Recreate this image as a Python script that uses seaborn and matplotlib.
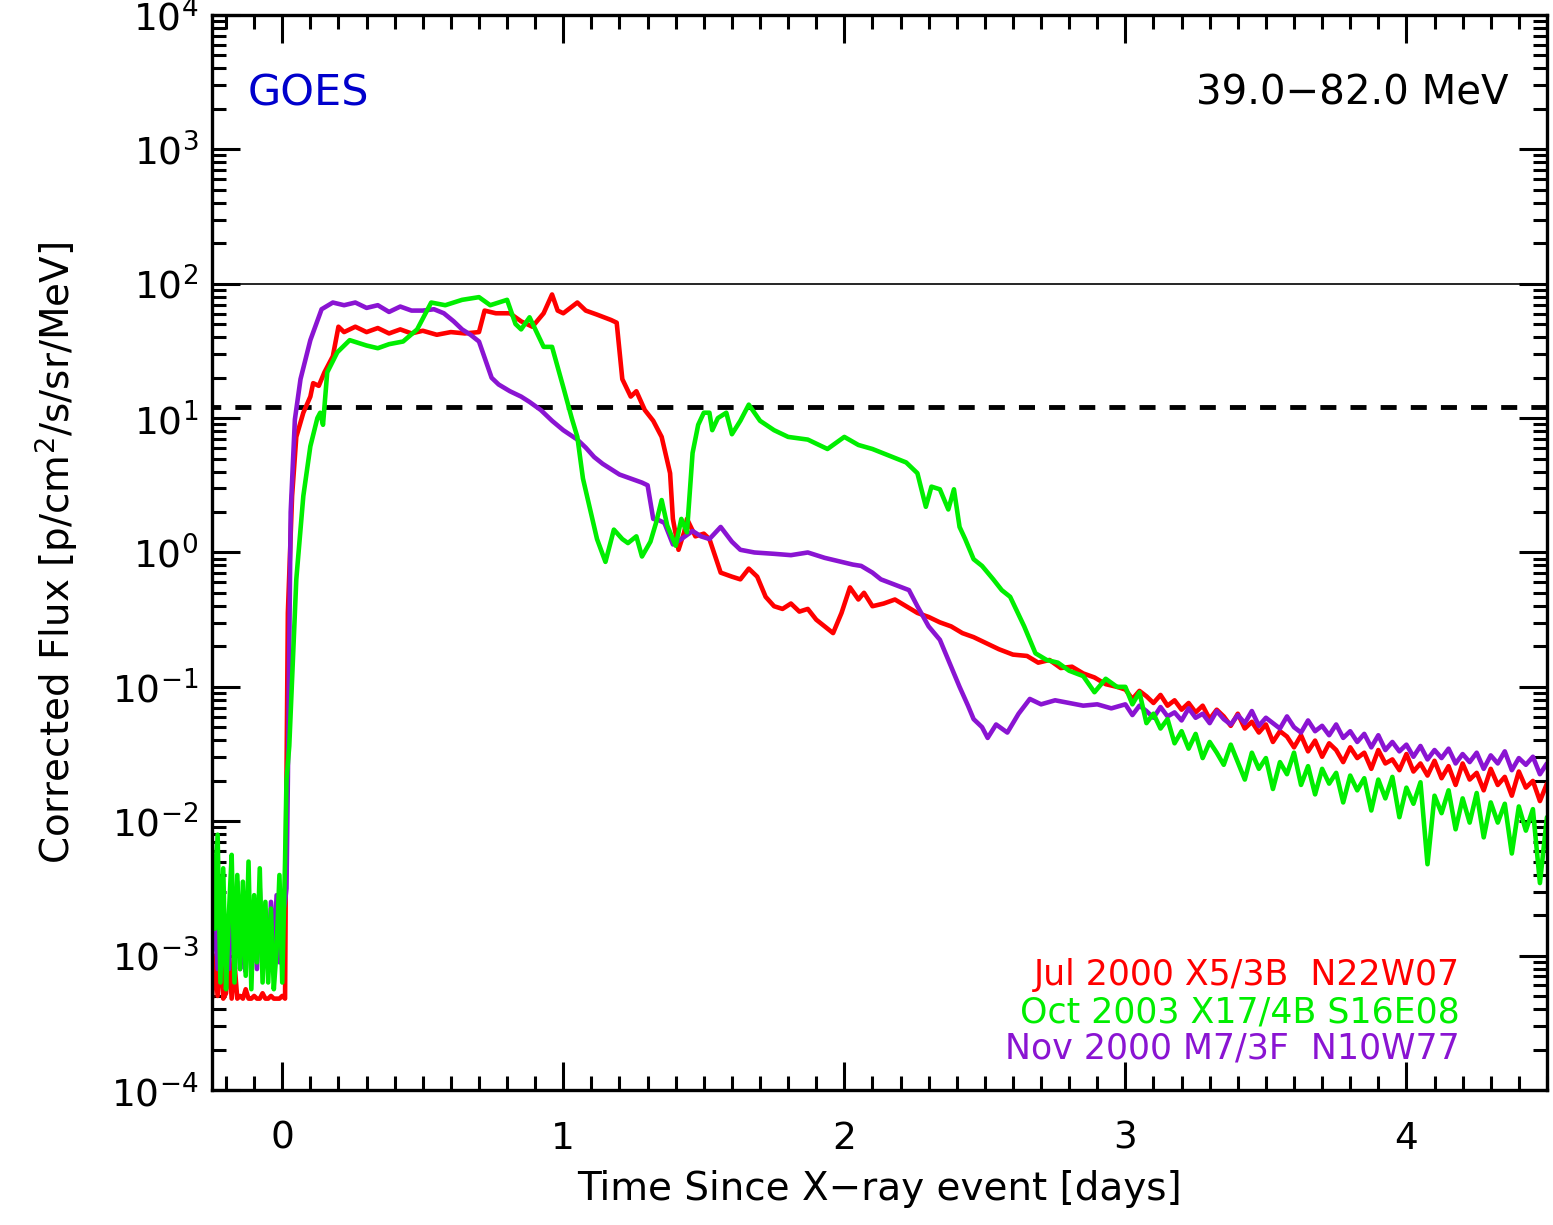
import numpy as np
import pandas as pd
import seaborn as sns
import matplotlib.pyplot as plt
from matplotlib.ticker import LogLocator, MultipleLocator, NullFormatter

sns.set_theme(style="ticks")
plt.rcParams["font.family"] = ["DejaVu Sans"]
plt.rcParams["mathtext.fontset"] = "dejavusans"
plt.rcParams["text.color"] = "black"
plt.rcParams["axes.labelcolor"] = "black"

# event names and colours
events = ["Jul 2000 X5/3B  N22W07", "Nov 2000 M7/3F  N10W77", "Oct 2003 X17/4B S16E08"]
colors = ["#ff0000", "#8a14d2", "#00ee00"]
day_ticks = [0, 1, 2, 3, 4]
flux_ticks = [1e-4, 1e-3, 1e-2, 1e-1, 1e0, 1e1, 1e2, 1e3, 1e4]

# log10 of flux
# before the X-ray event (shared time grid)
pre_days = [-0.25, -0.24, -0.23, -0.22, -0.21, -0.20, -0.19, -0.18, -0.17, -0.16,
            -0.15, -0.14, -0.13, -0.12, -0.11, -0.10, -0.09, -0.08, -0.07, -0.06,
            -0.05, -0.04, -0.03, -0.02, -0.01, 0.00, 0.01]
red_pre = [-3.32, -3.00, -3.30, -2.90, -3.32, -3.28, -2.95, -3.32, -3.05, -3.32,
           -3.30, -3.32, -3.25, -3.32, -3.32, -3.30, -3.32, -3.32, -3.28, -3.32,
           -3.32, -3.30, -3.32, -3.32, -3.32, -3.30, -3.32]
purple_pre = [-3.00, -2.60, -3.10, -2.50, -3.05, -2.90, -3.10, -2.60, -3.00, -2.45,
              -3.10, -2.80, -3.12, -2.55, -3.00, -2.70, -3.10, -2.50, -3.05, -2.85,
              -3.10, -2.60, -3.00, -2.55, -3.05, -2.70, -2.60]
green_pre = [-2.15, -2.80, -2.10, -3.20, -2.35, -3.25, -2.70, -2.25, -3.20, -2.40,
             -3.10, -2.45, -3.15, -2.30, -3.25, -2.55, -3.05, -2.35, -3.20, -2.60,
             -3.20, -2.65, -3.25, -2.95, -2.40, -3.20, -2.30]

# main part of each event
red_days = [0.015, 0.02, 0.035, 0.05, 0.075, 0.10, 0.11, 0.13, 0.15, 0.18,
            0.20, 0.22, 0.26, 0.30, 0.34, 0.38, 0.42, 0.46, 0.50, 0.55,
            0.60, 0.65, 0.70, 0.72, 0.76, 0.81, 0.85, 0.89, 0.93, 0.96,
            0.98, 1.00, 1.05, 1.08, 1.12, 1.17, 1.19, 1.21, 1.24, 1.26,
            1.29, 1.32, 1.35, 1.38, 1.39, 1.41, 1.43, 1.44, 1.47, 1.50,
            1.52, 1.56, 1.60, 1.63, 1.66, 1.69, 1.72, 1.75, 1.78, 1.81,
            1.84, 1.87, 1.90, 1.93, 1.96, 1.99, 2.02, 2.05, 2.07, 2.10,
            2.14, 2.18, 2.22, 2.26, 2.30, 2.34, 2.38, 2.42, 2.46, 2.50,
            2.55, 2.60, 2.65, 2.69, 2.73, 2.77, 2.81, 2.85, 2.89, 2.93, 2.97]
red_mid = [-1.70, -0.45, 0.42, 0.86, 1.04, 1.16, 1.26, 1.24, 1.34, 1.46,
           1.68, 1.64, 1.68, 1.64, 1.67, 1.63, 1.66, 1.63, 1.65, 1.62,
           1.64, 1.63, 1.64, 1.80, 1.78, 1.78, 1.72, 1.68, 1.78, 1.92,
           1.80, 1.78, 1.86, 1.80, 1.77, 1.73, 1.71, 1.29, 1.16, 1.20,
           1.06, 0.98, 0.86, 0.59, 0.25, 0.02, 0.15, 0.25, 0.12, 0.14,
           0.10, -0.15, -0.18, -0.20, -0.12, -0.18, -0.33, -0.40, -0.42, -0.38,
           -0.44, -0.42, -0.50, -0.55, -0.60, -0.45, -0.26, -0.35, -0.30, -0.40,
           -0.38, -0.35, -0.40, -0.45, -0.48, -0.52, -0.55, -0.60, -0.63, -0.67,
           -0.72, -0.76, -0.77, -0.82, -0.80, -0.86, -0.85, -0.90, -0.93, -0.98, -1.00]

purple_days = [0.015, 0.02, 0.03, 0.045, 0.065, 0.10, 0.14, 0.18, 0.22, 0.26,
               0.30, 0.34, 0.38, 0.42, 0.46, 0.50, 0.54, 0.575, 0.61, 0.64,
               0.67, 0.70, 0.72, 0.745, 0.77, 0.81, 0.85, 0.88, 0.92, 0.96,
               1.00, 1.05, 1.08, 1.11, 1.14, 1.17, 1.20, 1.24, 1.28, 1.30,
               1.32, 1.34, 1.36, 1.39, 1.42, 1.46, 1.49, 1.52, 1.56, 1.60,
               1.63, 1.68, 1.75, 1.81, 1.87, 1.93, 1.99, 2.03, 2.06, 2.10,
               2.13, 2.18, 2.23, 2.26, 2.30, 2.34, 2.38, 2.41, 2.44, 2.46,
               2.49, 2.51, 2.54, 2.58, 2.62, 2.66, 2.70, 2.75, 2.80, 2.85,
               2.90, 2.95]
purple_mid = [-2.50, -1.69, 0.30, 0.99, 1.29, 1.58, 1.81, 1.86, 1.84, 1.86,
              1.82, 1.84, 1.79, 1.83, 1.80, 1.80, 1.81, 1.78, 1.72, 1.66,
              1.62, 1.57, 1.45, 1.30, 1.25, 1.20, 1.16, 1.12, 1.06, 0.98,
              0.91, 0.84, 0.78, 0.71, 0.66, 0.62, 0.58, 0.55, 0.52, 0.50,
              0.25, 0.24, 0.22, 0.06, 0.10, 0.16, 0.12, 0.10, 0.19, 0.08,
              0.02, 0.00, -0.01, -0.02, 0.00, -0.04, -0.07, -0.09, -0.10, -0.15,
              -0.20, -0.24, -0.28, -0.40, -0.55, -0.65, -0.85, -1.00, -1.14, -1.24,
              -1.30, -1.38, -1.28, -1.34, -1.20, -1.09, -1.13, -1.10, -1.12, -1.14,
              -1.13, -1.16]

green_days = [0.015, 0.025, 0.05, 0.075, 0.10, 0.125, 0.135, 0.145, 0.16, 0.196,
              0.24, 0.30, 0.34, 0.38, 0.43, 0.48, 0.53, 0.58, 0.64, 0.70,
              0.74, 0.77, 0.80, 0.83, 0.85, 0.88, 0.93, 0.96, 1.00, 1.03,
              1.05, 1.07, 1.09, 1.12, 1.15, 1.18, 1.21, 1.23, 1.26, 1.28,
              1.31, 1.33, 1.35, 1.37, 1.40, 1.42, 1.44, 1.46, 1.48, 1.50,
              1.52, 1.53, 1.55, 1.58, 1.60, 1.63, 1.66, 1.70, 1.75, 1.80,
              1.87, 1.94, 2.00, 2.05, 2.10, 2.16, 2.22, 2.26, 2.29, 2.31,
              2.34, 2.37, 2.39, 2.41, 2.43, 2.46, 2.49, 2.53, 2.56, 2.59,
              2.64, 2.68, 2.72, 2.76, 2.80, 2.85, 2.89, 2.93, 2.97]
green_mid = [-1.70, -1.44, -0.20, 0.42, 0.79, 1.00, 1.04, 0.95, 1.34, 1.49,
             1.58, 1.54, 1.52, 1.55, 1.57, 1.66, 1.86, 1.84, 1.88, 1.90,
             1.84, 1.86, 1.88, 1.70, 1.66, 1.75, 1.53, 1.53, 1.23, 1.00,
             0.86, 0.55, 0.37, 0.10, -0.07, 0.17, 0.10, 0.07, 0.12, -0.03,
             0.08, 0.22, 0.39, 0.20, 0.05, 0.25, 0.15, 0.74, 0.95, 1.04,
             1.04, 0.91, 1.00, 1.04, 0.88, 0.98, 1.10, 0.98, 0.91, 0.86,
             0.84, 0.77, 0.86, 0.80, 0.77, 0.72, 0.67, 0.59, 0.34, 0.49,
             0.47, 0.32, 0.47, 0.19, 0.10, -0.05, -0.10, -0.20, -0.28, -0.33,
             -0.55, -0.75, -0.80, -0.82, -0.88, -0.92, -1.04, -0.94, -1.00]

# noisy decay phase (shared time grid)
tail_days = [3.000, 3.025, 3.050, 3.075, 3.100, 3.125, 3.150, 3.175, 3.200, 3.225,
             3.250, 3.275, 3.300, 3.325, 3.350, 3.375, 3.400, 3.425, 3.450, 3.475,
             3.500, 3.525, 3.550, 3.575, 3.600, 3.625, 3.650, 3.675, 3.700, 3.725,
             3.750, 3.775, 3.800, 3.825, 3.850, 3.875, 3.900, 3.925, 3.950, 3.975,
             4.000, 4.025, 4.050, 4.075, 4.100, 4.125, 4.150, 4.175, 4.200, 4.225,
             4.250, 4.275, 4.300, 4.325, 4.350, 4.375, 4.400, 4.425, 4.450, 4.475,
             4.500]
red_tail = [-1.02, -1.09, -1.03, -1.07, -1.12, -1.06, -1.14, -1.10, -1.17, -1.12,
            -1.19, -1.14, -1.24, -1.17, -1.22, -1.29, -1.20, -1.31, -1.26, -1.34,
            -1.28, -1.41, -1.33, -1.37, -1.45, -1.36, -1.48, -1.40, -1.52, -1.42,
            -1.47, -1.56, -1.45, -1.53, -1.49, -1.61, -1.47, -1.57, -1.54, -1.62,
            -1.50, -1.63, -1.57, -1.66, -1.55, -1.68, -1.59, -1.73, -1.57, -1.69,
            -1.64, -1.77, -1.61, -1.73, -1.67, -1.81, -1.63, -1.75, -1.70, -1.85,
            -1.72]
purple_tail = [-1.13, -1.21, -1.14, -1.18, -1.23, -1.15, -1.22, -1.19, -1.25, -1.16,
               -1.23, -1.20, -1.27, -1.18, -1.24, -1.28, -1.21, -1.27, -1.18, -1.29,
               -1.23, -1.27, -1.31, -1.22, -1.30, -1.34, -1.25, -1.33, -1.29, -1.36,
               -1.28, -1.38, -1.33, -1.41, -1.35, -1.45, -1.36, -1.47, -1.41, -1.48,
               -1.43, -1.52, -1.44, -1.54, -1.47, -1.53, -1.46, -1.57, -1.50, -1.56,
               -1.49, -1.61, -1.51, -1.57, -1.48, -1.62, -1.53, -1.58, -1.52, -1.65,
               -1.57]
green_tail = [-1.00, -1.13, -1.04, -1.27, -1.20, -1.31, -1.24, -1.42, -1.33, -1.46,
              -1.35, -1.53, -1.41, -1.49, -1.58, -1.43, -1.56, -1.69, -1.49, -1.61,
              -1.53, -1.76, -1.56, -1.65, -1.49, -1.73, -1.59, -1.80, -1.61, -1.72,
              -1.64, -1.86, -1.66, -1.77, -1.68, -1.92, -1.69, -1.83, -1.67, -1.97,
              -1.75, -1.87, -1.71, -2.32, -1.81, -1.94, -1.77, -2.06, -1.83, -2.01,
              -1.79, -2.12, -1.86, -2.01, -1.87, -2.24, -1.89, -2.07, -1.91, -2.46,
              -1.97]

thresh_solid = 100.0
thresh_dashed = 12.0

parts = [
    (events[0], red_pre, red_days, red_mid, red_tail),
    (events[1], purple_pre, purple_days, purple_mid, purple_tail),
    (events[2], green_pre, green_days, green_mid, green_tail),
]
frames = []
for name, pre, days, mid, tail in parts:
    logs = np.array(pre + mid + tail)
    frames.append(pd.DataFrame({
        "day": pre_days + days + tail_days,
        "flux": 10.0 ** logs,
        "event": name,
    }))
df = pd.concat(frames, ignore_index=True)

fig = plt.figure(figsize=(15.53, 12.25), dpi=100)
ax = fig.add_axes([0.1365, 0.1102, 0.8596, 0.8776])

ax.axhline(thresh_solid, color="black", lw=1.2, zorder=1)
ax.axhline(thresh_dashed, color="black", lw=3.5, ls=(1.5, (3.3, 2.9)), zorder=1)

sns.lineplot(data=df, x="day", y="flux", hue="event", hue_order=events,
             palette=colors, estimator=None, sort=False, legend=False,
             lw=3.3, ax=ax, zorder=2)

ax.set_yscale("log")
ax.set_xticks(day_ticks)
ax.set_yticks(flux_ticks)
ax.set_xlim(-0.25, 4.5)
ax.set_ylim(1e-4, 1e4)
ax.xaxis.set_minor_locator(MultipleLocator(0.1))
ax.yaxis.set_minor_locator(LogLocator(base=10, subs=np.arange(2, 10), numticks=20))
ax.yaxis.set_minor_formatter(NullFormatter())

ax.tick_params(which="both", direction="in", top=True, right=True,
               width=2.2, colors="black", labelsize=27)
ax.tick_params(which="major", length=20)
ax.tick_params(which="minor", length=10)
ax.tick_params(axis="x", which="major", pad=22)
ax.tick_params(axis="y", which="major", pad=10)
for s in ax.spines.values():
    s.set_linewidth(2.4)
    s.set_color("black")

ax.set_xlabel("Time Since X\u2212ray event [days]", fontsize=28, labelpad=10)
ax.set_ylabel("Corrected Flux [p/cm$^2$/s/sr/MeV]", fontsize=28, labelpad=22)

ax.text(0.027, 0.927, "GOES", color="#0000cc", fontsize=31,
        transform=ax.transAxes, ha="left", va="center")
ax.text(0.971, 0.927, "39.0\u221282.0 MeV", color="black", fontsize=29,
        transform=ax.transAxes, ha="right", va="center")
legend_y = [0.107, 0.039, 0.072]
for name, c, yy in zip(events, colors, legend_y):
    ax.text(0.935, yy, name, color=c, fontsize=25, transform=ax.transAxes,
            ha="right", va="center")

fig.savefig("out.png", dpi=100)
